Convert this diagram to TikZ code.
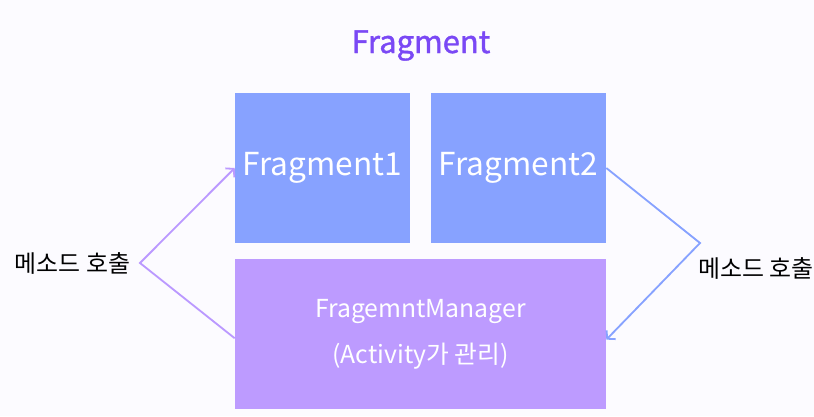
\documentclass[tikz,border=0pt]{standalone}
\usepackage{fontspec}
\setmainfont{Noto Sans CJK KR}
\newfontfamily\titlefont{Noto Sans CJK KR}[FakeBold=1.3]
\usetikzlibrary{arrows.meta,positioning,backgrounds}
\definecolor{fragblue}{HTML}{87A2FF}
\definecolor{mgrpurple}{HTML}{BD9BFF}
\definecolor{titlepurple}{HTML}{7A48F5}
\definecolor{callpurple}{HTML}{BB99FF}
\definecolor{bgtint}{HTML}{FCFBFF}

\begin{document}
\begin{tikzpicture}[
    x=0.025cm, y=-0.025cm,
    frag/.style   = {rectangle, fill=fragblue, text=white, inner sep=0pt,
                     minimum width=4.375cm, minimum height=3.75cm,
                     font=\fontsize{22.5}{27}\selectfont},
    mgr/.style    = {rectangle, fill=mgrpurple, text=white, inner sep=0pt,
                     minimum width=9.275cm, minimum height=3.75cm, align=center,
                     font=\fontsize{17.6}{32.5}\selectfont},
    title/.style  = {anchor=base, text=titlepurple,
                     font=\titlefont\fontsize{22}{26}\selectfont},
    call/.style   = {font=\fontsize{17}{20}\selectfont, text=black},
    callL/.style  = {-{Straight Barb[length=4pt,width=9pt]}, line width=1.3pt, callpurple},
    callR/.style  = {-{Straight Barb[length=4pt,width=9pt]}, line width=1.3pt, fragblue},
]

  % canvas
  \fill[bgtint] (0,0) rectangle (814,416);
  \useasboundingbox (0,0) rectangle (814,416);

  \node[title] (ttl) at (421,53) {Fragment};

  \node[frag] (f1) at (322.5,168) {Fragment1};
  \node[frag] (f2) at (518.5,168) {Fragment2};
  \node[mgr]  (fm) at (420.5,334) {FragemntManager\\(Activity가 관리)};

  \node[call] (lcall) at (72.5,263) {메소드 호출};
  \node[call] (rcall) at (756,268)  {메소드 호출};

  \coordinate (lapex) at (140,263);
  \coordinate (rapex) at (700,243);

  % method calls
  \draw[callL] ([yshift=-3pt]fm.west) -- (lapex) -- (f1.west);
  \draw[callR] (f2.east) -- (rapex) -- ([yshift=-4pt]fm.east);

\end{tikzpicture}
\end{document}
